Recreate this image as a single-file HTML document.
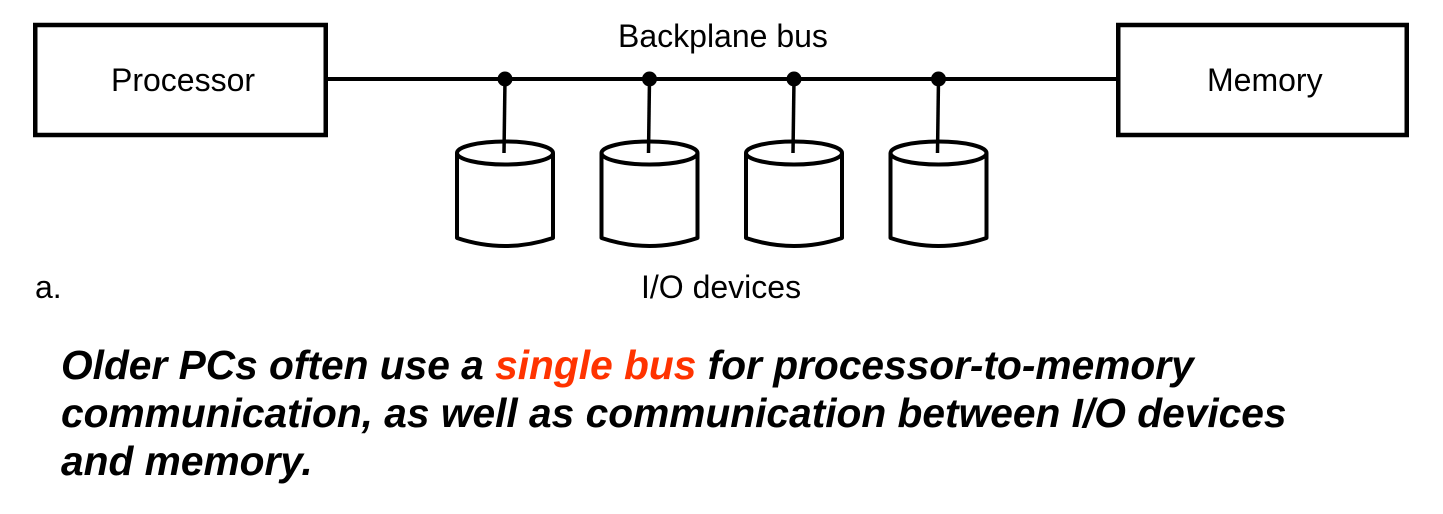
<!DOCTYPE html>
<html>
<head>
<meta charset="utf-8">
<style>
  html, body { margin: 0; padding: 0; background: #fff; }
  body { width: 1443px; height: 514px; overflow: hidden; }
  svg { display: block; }
</style>
</head>
<body>
<svg width="1443" height="514" viewBox="0 0 1443 514" xmlns="http://www.w3.org/2000/svg">
  <rect x="0" y="0" width="1443" height="514" fill="#fff"/>
  <!-- Boxes -->
  <rect x="35.25" y="25" width="290.5" height="110" fill="none" stroke="#000" stroke-width="4.5"/>
  <rect x="1118.25" y="25" width="288.5" height="110" fill="none" stroke="#000" stroke-width="4.5"/>
  <!-- Bus -->
  <line x1="327" y1="79" x2="1117" y2="79" stroke="#000" stroke-width="4"/>

  <g fill="none" stroke="#000" stroke-width="4" stroke-linejoin="round">
    <!-- cylinder 1 -->
    <line x1="505" y1="79" x2="504" y2="153" stroke-width="3.5"/>
    <ellipse cx="505" cy="153" rx="48" ry="11.5"/>
    <path d="M457 153 V238 Q505 254 553 238 V153"/>
    <!-- cylinder 2 -->
    <line x1="649.5" y1="79" x2="648.5" y2="153" stroke-width="3.5"/>
    <ellipse cx="649.5" cy="153" rx="48" ry="11.5"/>
    <path d="M601.5 153 V238 Q649.5 254 697.5 238 V153"/>
    <!-- cylinder 3 -->
    <line x1="794" y1="79" x2="793" y2="153" stroke-width="3.5"/>
    <ellipse cx="794" cy="153" rx="48" ry="11.5"/>
    <path d="M746 153 V238 Q794 254 842 238 V153"/>
    <!-- cylinder 4 -->
    <line x1="938.5" y1="79" x2="937.5" y2="153" stroke-width="3.5"/>
    <ellipse cx="938.5" cy="153" rx="48" ry="11.5"/>
    <path d="M890.5 153 V238 Q938.5 254 986.5 238 V153"/>
  </g>
  <!-- dots -->
  <g fill="#000">
    <circle cx="505" cy="79" r="7.5"/>
    <circle cx="649.5" cy="79" r="7.5"/>
    <circle cx="794" cy="79" r="7.5"/>
    <circle cx="938.5" cy="79" r="7.5"/>
  </g>

  <!-- Labels -->
  <g font-family="Liberation Sans, Arial, sans-serif" font-size="32" fill="#000">
    <text x="111" y="91">Processor</text>
    <text x="1207" y="91">Memory</text>
    <text x="618" y="47">Backplane bus</text>
    <text x="641" y="298">I/O devices</text>
    <text x="35" y="298">a.</text>
  </g>

  <g font-family="Liberation Sans, Arial, sans-serif" font-size="40.7" font-weight="bold" font-style="italic" fill="#000">
    <text x="61" y="379">Older PCs often use a <tspan fill="#ff3300">single bus</tspan> for processor-to-memory</text>
    <text x="61" y="427">communication, as well as communication between I/O devices</text>
    <text x="61" y="475">and memory.</text>
  </g>
</svg>
</body>
</html>
